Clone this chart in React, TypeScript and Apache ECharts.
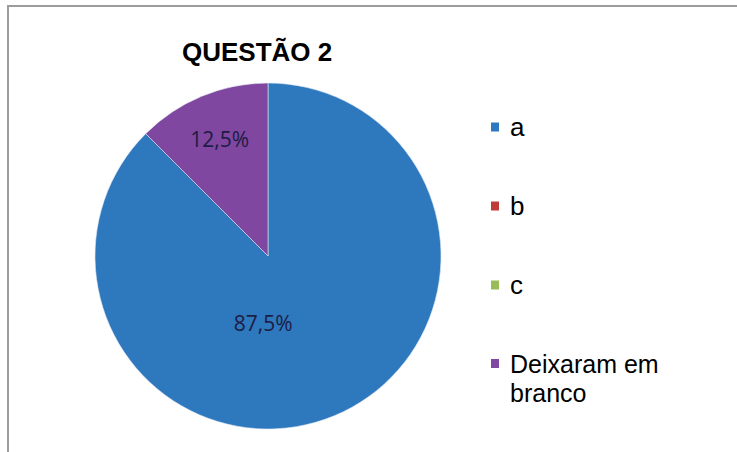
import React, { useEffect, useRef } from "react";
import * as echarts from "echarts";

const titleText = "QUESTÃO 2";
const categories = ["a", "b", "c", "Deixaram em branco"];
const values = [87.5, 0, 0, 12.5];
const colors = ["#2E78BD", "#BF3B3B", "#9BBB59", "#7F479F"];

// label nudges (style only), per slice index
const labelNudge: Record<number, [number, number]> = {
  0: [-39, -16],
  3: [-14, -34],
};

export default function App() {
  const ref = useRef<HTMLDivElement>(null);
  useEffect(() => {
    const chart = echarts.init(ref.current!, null, { renderer: "svg" });
    chart.setOption({
      animation: false,
      graphic: [
        {
          type: "rect",
          shape: { x: 8, y: 6, width: 800, height: 500 },
          style: { fill: "none", stroke: "#9c9c9c", lineWidth: 2 },
          silent: true,
        },
      ],
      title: {
        text: titleText,
        left: 182,
        top: 39,
        padding: 0,
        textStyle: {
          fontFamily: "Liberation Sans",
          fontWeight: "bold",
          fontSize: 26,
          color: "#000",
        },
      },
      legend: [
        {
          orient: "vertical",
          left: 491,
          top: 114,
          padding: 0,
          itemWidth: 8,
          itemHeight: 9,
          itemGap: 53,
          icon: "rect",
          itemStyle: { borderWidth: 0 },
          selectedMode: false,
          data: categories.slice(0, 3),
          textStyle: {
            fontFamily: "Liberation Sans",
            fontSize: 26,
            lineHeight: 26,
            color: "#000",
            padding: [0, 0, 0, 6],
          },
        },
        {
          orient: "vertical",
          left: 491,
          top: 320,
          padding: 0,
          itemWidth: 8,
          itemHeight: 9,
          icon: "rect",
          itemStyle: { borderWidth: 0 },
          selectedMode: false,
          data: categories.slice(3),
          formatter: (name: string) => "\n" + name.replace(" em ", " em\n"),
          textStyle: {
            fontFamily: "Liberation Sans",
            fontSize: 25,
            lineHeight: 29,
            color: "#000",
            padding: [0, 0, 0, 6],
          },
        },
      ],
      series: [
        {
          type: "pie",
          center: [268, 256],
          radius: 173,
          startAngle: 90,
          clockwise: true,
          avoidLabelOverlap: false,
          emphasis: { disabled: true },
          itemStyle: { borderColor: "#dfe8f5", borderWidth: 0.6 },
          label: {
            show: true,
            position: "inside",
            fontFamily: "Open Sans",
            fontSize: 21,
            color: "#1C1C45",
            formatter: (p: any) =>
              p.value > 0 ? p.percent.toFixed(1).replace(".", ",") + "%" : "",
          },
          labelLine: { show: false },
          labelLayout: (params: any) => {
            const n = labelNudge[params.dataIndex];
            return n ? { dx: n[0], dy: n[1] } : {};
          },
          data: categories.map((name, i) => ({
            name,
            value: values[i],
            itemStyle: { color: colors[i] },
          })),
        },
      ],
    });
    return () => chart.dispose();
  }, []);
  return (
    <div
      ref={ref}
      style={{ position: "fixed", left: 0, top: 0, width: 737, height: 452, background: "#fff" }}
    />
  );
}
